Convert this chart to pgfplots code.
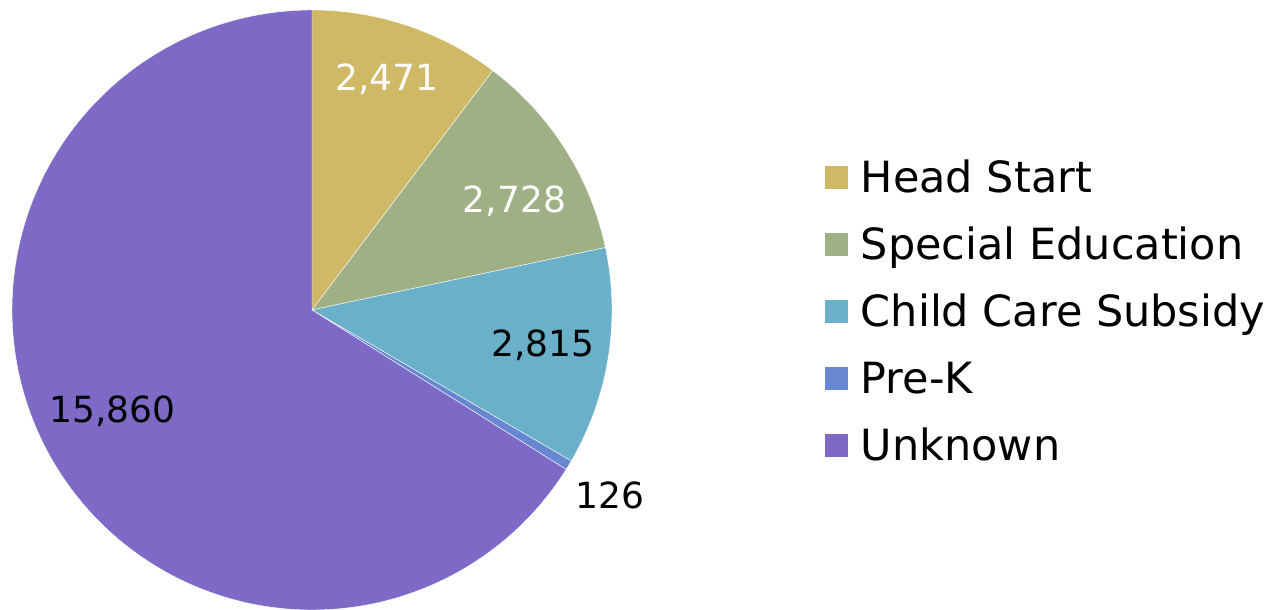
\documentclass[border=0pt]{standalone}
\usepackage{pgfplots}
\usepackage{pgfplotstable}
\pgfplotsset{compat=1.18}
\usepackage{fontspec}
\setmainfont{DejaVu Sans}
\definecolor{hs}{HTML}{CFB967}
\definecolor{se}{HTML}{9EB084}
\definecolor{cc}{HTML}{6AB0C8}
\definecolor{pk}{HTML}{6788D0}
\definecolor{uk}{HTML}{7D6AC6}
\pgfplotstableread[col sep=comma]{
label,value
Head Start,2471
Special Education,2728
Child Care Subsidy,2815
Pre-K,126
Unknown,15860
}\piedata
\begin{document}
\begin{tikzpicture}
\path[use as bounding box] (0,0) rectangle (637bp,305bp);
\pgfplotstablegetelem{0}{value}\of\piedata \let\vA\pgfplotsretval
\pgfplotstablegetelem{1}{value}\of\piedata \let\vB\pgfplotsretval
\pgfplotstablegetelem{2}{value}\of\piedata \let\vC\pgfplotsretval
\pgfplotstablegetelem{3}{value}\of\piedata \let\vD\pgfplotsretval
\pgfplotstablegetelem{4}{value}\of\piedata \let\vE\pgfplotsretval
\pgfmathsetmacro\total{\vA/1000+\vB/1000+\vC/1000+\vD/1000+\vE/1000}
\pgfmathsetmacro\aA{90}
\pgfmathsetmacro\aB{\aA-\vA/1000/\total*360}
\pgfmathsetmacro\aC{\aB-\vB/1000/\total*360}
\pgfmathsetmacro\aD{\aC-\vC/1000/\total*360}
\pgfmathsetmacro\aE{\aD-\vD/1000/\total*360}
\pgfmathsetmacro\aF{-270}
\begin{axis}[
  at={(6bp,0bp)}, anchor=south west,
  width=300bp, height=300bp, scale only axis,
  xmin=-1, xmax=1, ymin=-1, ymax=1,
  hide axis, clip=false,
  legend cell align=left,
  legend image code/.code={\fill (0bp,-6bp) rectangle (12bp,6bp); \path (18bp,0bp);},
  legend style={at={(1.3533,0.498)}, anchor=west, draw=none, fill=none, inner sep=0pt,
    row sep=17.8bp, column sep=0pt,
    font=\fontsize{21.5bp}{25bp}\selectfont,
    nodes={inner sep=0pt, text depth=0pt, text height=15.7bp}},
]
\addplot[fill=hs, draw=white, line width=0.2bp, domain=\aB:\aA, samples=60, variable=\t] ({cos(\t)},{sin(\t)}) -- (axis cs:0,0) -- cycle;
\addlegendentry{Head Start}
\addplot[fill=se, draw=white, line width=0.2bp, domain=\aC:\aB, samples=60, variable=\t] ({cos(\t)},{sin(\t)}) -- (axis cs:0,0) -- cycle;
\addlegendentry{Special Education}
\addplot[fill=cc, draw=white, line width=0.2bp, domain=\aD:\aC, samples=60, variable=\t] ({cos(\t)},{sin(\t)}) -- (axis cs:0,0) -- cycle;
\addlegendentry{Child Care Subsidy}
\addplot[fill=pk, draw=white, line width=0.2bp, domain=\aE:\aD, samples=10, variable=\t] ({cos(\t)},{sin(\t)}) -- (axis cs:0,0) -- cycle;
\addlegendentry{Pre-K}
\addplot[fill=uk, draw=white, line width=0.2bp, domain=\aF:\aE, samples=240, variable=\t] ({cos(\t)},{sin(\t)}) -- (axis cs:0,0) -- cycle;
\addlegendentry{Unknown}
\begin{scope}[every node/.style={font=\fontsize{18bp}{22bp}\selectfont, text depth=0pt, inner sep=0pt}]
\node[text=white] at (axis cs:0.25,0.777) {2,471};
\node[text=white] at (axis cs:0.675,0.37) {2,728};
\node[text=black] at (axis cs:0.77,-0.11) {2,815};
\node[text=black] at (axis cs:0.992,-0.617) {126};
\node[text=black] at (axis cs:-0.665,-0.33) {15,860};
\end{scope}
\end{axis}
\end{tikzpicture}
\end{document}
